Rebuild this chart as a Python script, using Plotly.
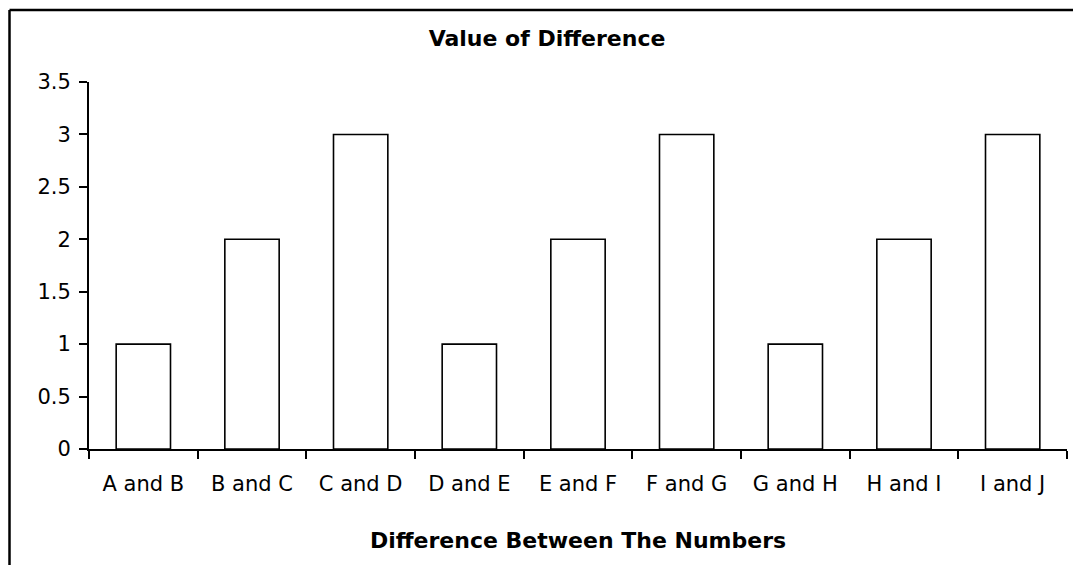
import plotly.graph_objects as go

categories = ["A and B", "B and C", "C and D", "D and E", "E and F",
              "F and G", "G and H", "H and I", "I and J"]
values = [1, 2, 3, 1, 2, 3, 1, 2, 3]
y_ticks = [0, 0.5, 1, 1.5, 2, 2.5, 3, 3.5]
y_tick_labels = ["0", "0.5", "1", "1.5", "2", "2.5", "3", "3.5"]

# page body adds an ~8px offset, so the figure is sized/positioned to compensate
OFF = 8
W, H = 1081 - OFF, 565 - OFF
L, T = 89 - OFF, 82 - OFF
R = W - (1067 - OFF)
B = H - (449 - OFF)
pw, ph = W - L - R, H - T - B

fig = go.Figure(go.Bar(
    x=categories, y=values,
    marker=dict(color="white", line=dict(color="black", width=1.6)),
))

font = "DejaVu Sans, Arial, sans-serif"

fig.update_layout(
    width=W, height=H,
    margin=dict(l=L, r=R, t=T, b=B),
    paper_bgcolor="white", plot_bgcolor="white",
    bargap=0.5,
    showlegend=False,
    font=dict(family=font, size=21, color="black"),
    title=dict(text="Value of Difference", x=(547 - OFF) / W, xref="container",
               y=1 - (38 - OFF) / H, yref="container", xanchor="center", yanchor="middle",
               font=dict(family=font, size=22, color="black", weight="bold")),
)
fig.update_xaxes(
    type="category", tickson="boundaries", ticks="outside", ticklen=8, tickwidth=2,
    tickcolor="black", showline=True, linecolor="black", linewidth=2,
    showgrid=False, zeroline=False, ticklabelstandoff=15,
    tickfont=dict(family=font, size=21, color="black"),
    title=dict(text="Difference Between The Numbers", standoff=37,
               font=dict(family=font, size=22, color="black", weight="bold")),
)
fig.update_yaxes(
    range=[0, 3.5], tickvals=y_ticks, ticktext=y_tick_labels,
    ticks="outside", ticklen=8, tickwidth=2, tickcolor="black",
    showline=True, linecolor="black", linewidth=2,
    showgrid=False, zeroline=False, ticklabelstandoff=4,
    tickfont=dict(family=font, size=21, color="black"),
)

# chart-area border (left and top edges visible; others cropped)
bx = (9.5 - OFF - L) / pw
by = (T + ph - (10 - OFF)) / ph
fig.add_shape(type="line", xref="paper", yref="paper", x0=bx, x1=bx, y0=by, y1=-1,
              line=dict(color="black", width=2.5))
fig.add_shape(type="line", xref="paper", yref="paper", x0=bx, x1=2, y0=by, y1=by,
              line=dict(color="black", width=2.5))

fig.write_html("out.html")
